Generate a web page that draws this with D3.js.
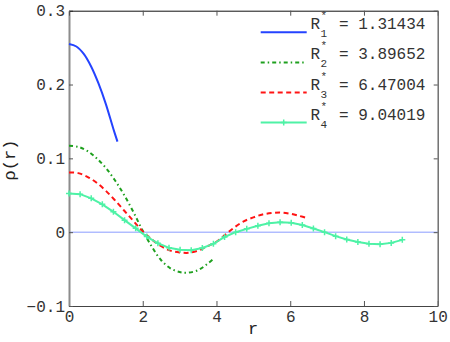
<!DOCTYPE html>
<html>
<head>
<meta charset="utf-8">
<script src="https://cdn.jsdelivr.net/npm/d3@7"></script>
<style>
  body { margin: 0; background: #fff; }
  text { font-family: "Liberation Mono", "DejaVu Sans Mono", monospace; }
</style>
</head>
<body>
<svg class="svg_rho" width="450" height="342"></svg>
<script>
// cut-off radii, one per curve
var Rstar = [1.31434, 3.89652, 6.47004, 9.04019];

// curve 1 (solid blue)
var r1   = [0, 0.2, 0.4, 0.6, 0.8, 1.0, 1.2, 1.31434];
var rho1 = [0.2548, 0.2515, 0.2415, 0.2245, 0.2015, 0.1735, 0.1405, 0.1226];

// curve 2 (green dash-dot)
var r2   = [0, 0.25, 0.5, 0.75, 1.0, 1.25, 1.5, 1.75, 2.0, 2.25, 2.5, 2.75, 3.0, 3.2, 3.5, 3.75, 3.89652];
var rho2 = [0.117, 0.1155, 0.110, 0.100, 0.087, 0.070, 0.050, 0.027, 0.002, -0.020, -0.038, -0.049, -0.054, -0.055, -0.0515, -0.043, -0.037];

// curve 3 (red dashed)
var r3   = [0, 0.25, 0.5, 0.75, 1.0, 1.25, 1.5, 1.75, 2.0, 2.25, 2.5, 2.75, 3.0, 3.25, 3.5, 3.75, 4.0, 4.25, 4.5, 4.75, 5.0, 5.25, 5.5, 5.75, 6.0, 6.25, 6.47004];
var rho3 = [0.081, 0.080, 0.075, 0.067, 0.056, 0.043, 0.029, 0.015, 0.001, -0.010, -0.019, -0.025, -0.0275, -0.028, -0.025, -0.019, -0.013, -0.003, 0.007, 0.015, 0.020, 0.024, 0.026, 0.0267, 0.025, 0.022, 0.019];

// curve 4 (aqua with + markers)
var r4   = [0, 0.301, 0.603, 0.904, 1.205, 1.507, 1.808, 2.109, 2.411, 2.712, 3.013, 3.315, 3.616, 3.917, 4.219, 4.520,
            4.821, 5.123, 5.424, 5.725, 6.027, 6.328, 6.629, 6.931, 7.232, 7.533, 7.835, 8.136, 8.437, 8.739, 9.040];
var rho4 = [0.0525, 0.0515, 0.0458, 0.0377, 0.0276, 0.0163, 0.0052, -0.0060, -0.0150, -0.0212, -0.0238, -0.0244, -0.0215, -0.0158, -0.0065, 0.0000,
            0.0045, 0.0088, 0.0120, 0.0136, 0.0128, 0.0097, 0.0050, 0.0000, -0.0054, -0.0098, -0.0133, -0.0157, -0.0162, -0.0145, -0.0104];

var xTicks = [0, 2, 4, 6, 8, 10];
var yTicks = [-0.1, 0, 0.1, 0.2, 0.3];

var svg = d3.select(".svg_rho"),
    margin = {top: 10.7, right: 12.3, bottom: 36, left: 69},
    width = +svg.attr("width") - margin.left - margin.right,
    height = +svg.attr("height") - margin.top - margin.bottom,
    g = svg.append("g").attr("transform", "translate(" + margin.left + "," + margin.top + ")");

var x = d3.scaleLinear().domain([0, 10]).range([0, width]),
    y = d3.scaleLinear().domain([-0.1, 0.3]).range([height, 0]);

var yFmt = function(d) { return d === 0 ? "0" : d3.format(".1f")(d); };

// zero line
g.append("line")
    .attr("x1", 0).attr("x2", width)
    .attr("y1", y(0)).attr("y2", y(0))
    .attr("stroke", "#8a9cff").attr("stroke-width", 1);

// axes (ticks pointing inwards)
var axB = g.append("g").attr("transform", "translate(0," + height + ")")
    .call(d3.axisBottom(x).tickValues(xTicks).tickSizeInner(-5).tickSizeOuter(0).tickPadding(5));
var axL = g.append("g")
    .call(d3.axisLeft(y).tickValues(yTicks).tickFormat(yFmt).tickSizeInner(-4).tickSizeOuter(0).tickPadding(4));
var axT = g.append("g")
    .call(d3.axisTop(x).tickValues(xTicks).tickFormat("").tickSizeInner(-5).tickSizeOuter(0));
var axR = g.append("g").attr("transform", "translate(" + width + ",0)")
    .call(d3.axisRight(y).tickValues(yTicks).tickFormat("").tickSizeInner(-4).tickSizeOuter(0));

[axB, axL, axT, axR].forEach(function(a) {
  a.selectAll("text").attr("font-family", "Liberation Mono").attr("font-size", 16).attr("fill", "#333");
  a.selectAll(".tick line").attr("stroke", "#555");
});
axL.select(".domain").attr("stroke", "#8c8c8c").attr("stroke-width", 2);
axB.select(".domain").attr("stroke", "#444");
axT.select(".domain").attr("stroke", "#111");
axR.select(".domain").attr("stroke", "#666").attr("stroke-width", 1.4);

// curves
var series = [
  {r: r1, rho: rho1, color: "#2443ff", dash: null, curve: d3.curveCatmullRom},
  {r: r2, rho: rho2, color: "#1ea01e", dash: "4,3,1.5,3", curve: d3.curveCatmullRom},
  {r: r3, rho: rho3, color: "#ff1414", dash: "5,3.5", curve: d3.curveCatmullRom},
  {r: r4, rho: rho4, color: "#4ef2a6", dash: null, curve: d3.curveLinear, marker: true}
];

series.forEach(function(s) {
  var pts = s.r.map(function(v, i) { return [v, s.rho[i]]; });
  var line = d3.line().curve(s.curve)
      .x(function(d) { return x(d[0]); })
      .y(function(d) { return y(d[1]); });
  g.append("path")
      .attr("d", line(pts))
      .attr("fill", "none")
      .attr("stroke", s.color)
      .attr("stroke-width", 2)
      .attr("stroke-dasharray", s.dash);
  if (s.marker) {
    g.selectAll(".mk").data(pts).enter().append("path")
        .attr("d", function(d) {
          var px = x(d[0]), py = y(d[1]);
          return "M" + (px - 3) + "," + py + "H" + (px + 3) + "M" + px + "," + (py - 3) + "V" + (py + 3);
        })
        .attr("stroke", s.color).attr("stroke-width", 1.5);
  }
});

// legend
var lg = svg.append("g");
series.forEach(function(s, i) {
  var ly = 32.3 + i * 30.1;
  lg.append("line")
      .attr("x1", 260.7).attr("x2", 306.7).attr("y1", ly).attr("y2", ly)
      .attr("stroke", s.color).attr("stroke-width", 2)
      .attr("stroke-dasharray", s.dash);
  if (s.marker) {
    lg.append("path")
        .attr("d", "M280.7," + ly + "H286.7M283.7," + (ly - 3) + "V" + (ly + 3))
        .attr("stroke", s.color).attr("stroke-width", 1.5);
  }
  var base = ly - 3;
  lg.append("text").attr("x", 310.5).attr("y", base).attr("font-size", 16).attr("fill", "#333").text("R");
  lg.append("text").attr("x", 320.5).attr("y", base - 10).attr("font-size", 11).attr("fill", "#333").text("*");
  lg.append("text").attr("x", 320.5).attr("y", base + 8).attr("font-size", 11).attr("fill", "#333").text(i + 1);
  lg.append("text").attr("x", 339).attr("y", base).attr("font-size", 16).attr("fill", "#333")
      .text("= " + Rstar[i].toFixed(5));
});

// axis labels
svg.append("text")
    .attr("transform", "translate(15,160) rotate(-90)")
    .attr("text-anchor", "middle")
    .attr("font-size", 17).attr("fill", "#222")
    .text("ρ(r)");
svg.append("text")
    .attr("x", 253).attr("y", 334)
    .attr("text-anchor", "middle")
    .attr("font-size", 17).attr("fill", "#222")
    .text("r");
</script>
</body>
</html>
